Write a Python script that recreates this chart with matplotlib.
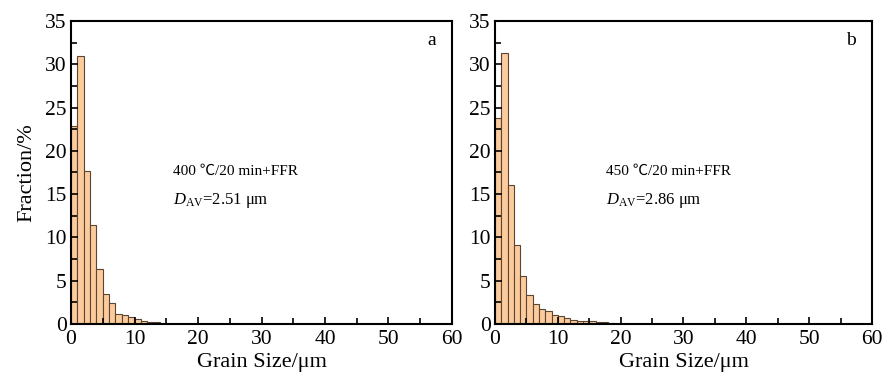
import numpy as np
import matplotlib
matplotlib.use("Agg")
import matplotlib.pyplot as plt
from matplotlib.ticker import MultipleLocator

plt.rcParams['font.family'] = ['Liberation Serif', 'Noto Sans CJK SC', 'DejaVu Sans']
plt.rcParams['mathtext.fontset'] = 'custom'
plt.rcParams['mathtext.rm'] = 'Liberation Serif'
plt.rcParams['mathtext.it'] = 'Liberation Serif:italic'

# data (1 um bins starting at 0)
frac_400 = [22.9, 31.0, 17.7, 11.4, 6.4, 3.5, 2.4, 1.2, 1.0, 0.8,
            0.6, 0.3, 0.25, 0.2, 0.05, 0.03]
frac_450 = [23.8, 31.3, 16.0, 9.1, 5.6, 3.3, 2.3, 1.7, 1.5, 1.0,
            0.9, 0.7, 0.5, 0.35, 0.3, 0.35, 0.25, 0.2, 0.15, 0.05]
panel_tags = ["a", "b"]
cond_text = ["400 ℃/20 min+FFR", "450 ℃/20 min+FFR"]
dav_text = [r"$\mathit{D}_{\mathrm{AV}}$=2.51 μm", r"$\mathit{D}_{\mathrm{AV}}$=2.86 μm"]
text_x = [16.0, 17.6]

fig = plt.figure(figsize=(8.82, 3.81), dpi=100)
ax1 = fig.add_axes([71/882, 57/381, 381/882, 303/381])
ax2 = fig.add_axes([495/882, 57/381, 377/882, 303/381])

for i, (ax, vals) in enumerate(zip([ax1, ax2], [frac_400, frac_450])):
    edges = np.arange(len(vals))
    ax.bar(edges, vals, width=1.0, align='edge', color='#FCCB9B',
           edgecolor='#5a4634', linewidth=0.8)
    ax.set_xlim(0, 60)
    ax.set_ylim(0, 35)
    ax.xaxis.set_major_locator(MultipleLocator(10))
    ax.xaxis.set_minor_locator(MultipleLocator(5))
    ax.yaxis.set_major_locator(MultipleLocator(5))
    ax.yaxis.set_minor_locator(MultipleLocator(2.5))
    ax.tick_params(which='both', direction='in', top=False, right=False,
                   width=1.2, labelsize=15.5)
    ax.tick_params(axis='x', pad=4)
    ax.tick_params(axis='y', pad=3)
    ax.tick_params(which='major', length=5)
    ax.tick_params(which='minor', length=4)
    for sp in ax.spines.values():
        sp.set_linewidth(1.5)
    ax.set_xlabel("Grain Size/μm", fontsize=16, labelpad=3)
    ax.text(57.5, 32.8, panel_tags[i], fontsize=14, ha='right', va='center')
    ax.text(text_x[i], 17.6, cond_text[i], fontsize=11, va='center')
    ax.text(text_x[i], 14.3, dav_text[i], fontsize=12, va='center')

ax1.set_ylabel("Fraction/%", fontsize=16, labelpad=6)

fig.savefig("out.png", dpi=100)
